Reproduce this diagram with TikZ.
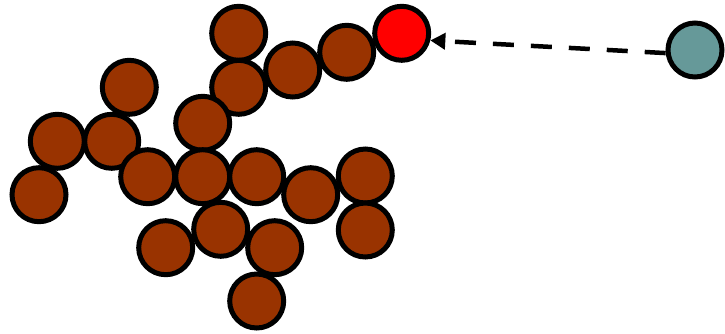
\documentclass[tikz,border=0pt]{standalone}
\usetikzlibrary{arrows.meta}
\definecolor{brownball}{HTML}{993300}
\definecolor{tealball}{HTML}{669999}
\tikzset{
  ball/.style={circle, draw=black, line width=5pt, minimum size=54pt, inner sep=0pt, fill=brownball},
  seed/.style={ball, fill=red},
  walker/.style={ball, fill=tealball},
  walk/.style={line width=4.5pt, dash pattern=on 21pt off 17pt, -{Triangle[length=15pt,width=16pt]}}
}
\begin{document}
\begin{tikzpicture}[x=1pt,y=-1pt]
\useasboundingbox (0,0) rectangle (725,333);
\node[ball] (b1) at (238.7,33.3) {};
\node[ball] (b2) at (346.7,52.3) {};
\node[ball] (b4) at (292.7,70) {};
\node[ball] (b5) at (238.7,87.3) {};
\node[ball] (b6) at (129.3,87.3) {};
\node[ball] (b7) at (202.7,123.3) {};
\node[ball] (b8) at (57.3,141.3) {};
\node[ball] (b9) at (111.7,141.3) {};
\node[ball] (b10) at (39,194.7) {};
\node[ball] (b11) at (147.7,176.7) {};
\node[ball] (b12) at (202.7,176.7) {};
\node[ball] (b13) at (256.7,176.7) {};
\node[ball] (b14) at (310.7,194.7) {};
\node[ball] (b15) at (365.3,176) {};
\node[ball] (b16) at (365.3,230) {};
\node[ball] (b17) at (165.7,247.7) {};
\node[ball] (b18) at (220.7,229.3) {};
\node[ball] (b19) at (274.7,247.7) {};
\node[ball] (b20) at (256.7,301) {};
\node[seed] (seed) at (401.7,33.3) {};
\node[walker] (w) at (695,50) {};
\draw[walk] (w.186) -- (seed.-14);
\end{tikzpicture}
\end{document}
